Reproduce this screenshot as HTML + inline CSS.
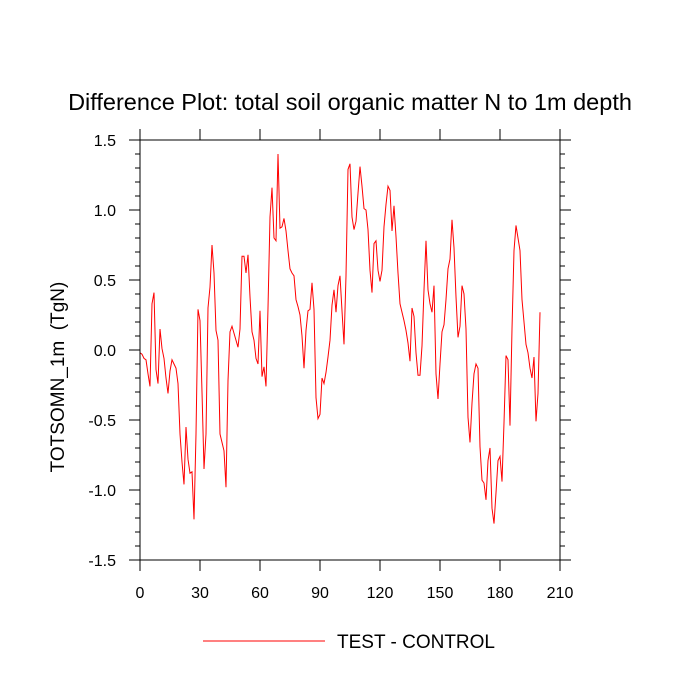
<!DOCTYPE html>
<html><head><meta charset="utf-8"><style>
html,body{margin:0;padding:0;background:#fff}
svg{display:block;font-family:"Liberation Sans",Arial,sans-serif}
</style></head><body>
<svg id="chart" width="700" height="700" viewBox="0 0 700 700">
<text x="350" y="110" font-size="23.5" text-anchor="middle">Difference Plot: total soil organic matter N to 1m depth</text>
<text transform="translate(64,377) rotate(-90)" font-size="19" text-anchor="middle" style="white-space:pre">TOTSOMN_1m  (TgN)</text>
<g id="axes"></g>
<path id="series" fill="none" stroke="#ff0000" stroke-width="1"></path>
<rect x="140" y="140" width="420" height="420" fill="none" stroke="#000" stroke-width="1"></rect>
<line x1="203" y1="641" x2="325" y2="641" stroke="#ff0000" stroke-width="1"></line>
<text x="337" y="648" font-size="19">TEST - CONTROL</text>
</svg>
<script>
const xTicks=[0,30,60,90,120,150,180,210];
const yTicks=[-1.5,-1.0,-0.5,0.0,0.5,1.0,1.5];
const yTickLabels=["-1.5","-1.0","-0.5","0.0","0.5","1.0","1.5"];
const values=[-0.02,-0.03,-0.06,-0.07,-0.17,-0.26,0.33,0.41,-0.14,-0.24,
0.15,0.01,-0.06,-0.2,-0.31,-0.15,-0.07,-0.1,-0.13,-0.24,
-0.6,-0.8,-0.96,-0.55,-0.78,-0.88,-0.87,-1.21,-0.6,0.29,0.21,
-0.3,-0.85,-0.6,0.3,0.45,0.75,0.55,0.14,0.07,-0.6,
-0.66,-0.72,-0.98,-0.22,0.13,0.17,0.12,0.07,0.02,0.15,
0.67,0.67,0.55,0.68,0.38,0.13,0.07,-0.06,-0.1,0.28,
-0.19,-0.12,-0.26,0.3,0.95,1.16,0.8,0.78,1.4,0.87,
0.88,0.94,0.85,0.71,0.58,0.55,0.53,0.36,0.31,0.25,
0.1,-0.13,0.14,0.28,0.29,0.48,0.29,-0.34,-0.49,-0.46,
-0.2,-0.24,-0.16,-0.05,0.07,0.32,0.43,0.27,0.46,0.53,
0.28,0.04,0.53,1.29,1.33,0.95,0.86,0.92,1.12,1.31,
1.17,1.01,1.0,0.86,0.57,0.41,0.76,0.78,0.57,0.49,
0.57,0.88,1.04,1.17,1.14,0.85,1.03,0.81,0.55,0.33,
0.27,0.21,0.14,0.05,-0.08,0.3,0.24,-0.02,-0.18,-0.18,0.03,
0.43,0.78,0.43,0.33,0.27,0.46,-0.17,-0.35,-0.1,0.13,
0.18,0.36,0.58,0.65,0.93,0.73,0.38,0.09,0.17,0.46,
0.4,0.15,-0.48,-0.66,-0.38,-0.17,-0.1,-0.13,-0.69,-0.93,
-0.95,-1.07,-0.79,-0.7,-1.13,-1.24,-1.02,-0.79,-0.76,-0.94,
-0.52,-0.04,-0.07,-0.54,0.15,0.71,0.89,0.8,0.71,0.36,0.2,
0.04,-0.02,-0.13,-0.2,-0.05,-0.51,-0.31,0.27];
const X0=140,X1=560,Y0=560,Y1=140;
function xs(v){return X0+(v-0)/(210-0)*(X1-X0);}
function ys(v){return Y0-(v+1.5)/3*(Y0-Y1);}
const NS="http://www.w3.org/2000/svg";
const g=document.getElementById('axes');
function ln(x1,y1,x2,y2,name){const l=document.createElementNS(NS,'line');
l.setAttribute('x1',x1);l.setAttribute('y1',y1);l.setAttribute('x2',x2);l.setAttribute('y2',y2);
l.setAttribute('stroke','#000');l.setAttribute('stroke-width','1');


g.appendChild(l);}
function tx(x,y,s,anchor,name){const t=document.createElementNS(NS,'text');
t.setAttribute('x',x);t.setAttribute('y',y);t.setAttribute('font-size','16');t.setAttribute('text-anchor',anchor);
t.textContent=s;


g.appendChild(t);}
xTicks.forEach(v=>{const x=xs(v);ln(x,Y0,x,Y0+11,'x-tick');ln(x,Y1,x,Y1-11,'x-tick-top');tx(x,Y0+38,String(v),'middle','x-tick-label');});
yTicks.forEach((v,i)=>{const y=ys(v);ln(X0,y,X0-11,y,'y-tick');ln(X1,y,X1+11,y,'y-tick-right');tx(X0-24,y+6,yTickLabels[i],'end','y-tick-label');});
for(let k=-15;k<=15;k++){if(k%5===0)continue;const y=ys(k/10);ln(X0,y,X0-5,y,'y-minor-tick');ln(X1,y,X1+5,y,'y-minor-tick-right');}
let d='';values.forEach((v,i)=>{d+=(i?'L':'M')+xs(i).toFixed(2)+' '+ys(v).toFixed(2);});
document.getElementById('series').setAttribute('d',d);
</script>
</body></html>
